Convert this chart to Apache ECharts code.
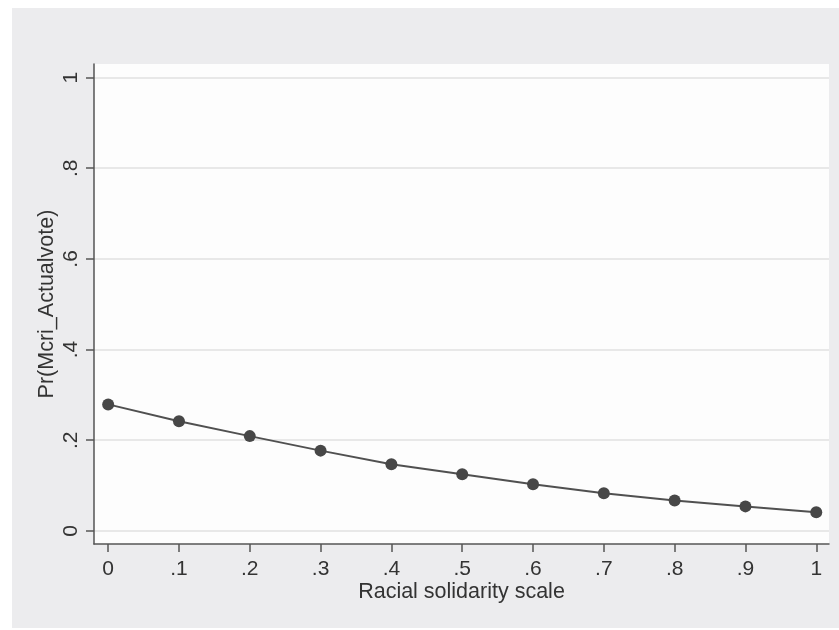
<!DOCTYPE html>
<html>
<head>
<meta charset="utf-8">
<script src="https://cdn.jsdelivr.net/npm/echarts@6/dist/echarts.min.js"></script>
<style>
  html, body { margin: 0; padding: 0; background: #ffffff; }
  #chart { width: 839px; height: 630px; }
</style>
</head>
<body>
<div id="chart"></div>
<script>
// Racial solidarity scale vs predicted Pr(Mcri_Actualvote)
const xValues = [0, 0.1, 0.2, 0.3, 0.4, 0.5, 0.6, 0.7, 0.8, 0.9, 1];
const probValues = [0.279, 0.242, 0.209, 0.177, 0.147, 0.125, 0.103, 0.083, 0.067, 0.054, 0.041];
const xTicks = [0, 0.1, 0.2, 0.3, 0.4, 0.5, 0.6, 0.7, 0.8, 0.9, 1];
const yTicks = [0, 0.2, 0.4, 0.6, 0.8, 1];

const ink = "#333333";
const font = "'Liberation Sans', Arial, sans-serif";
// Stata-style labels: drop the leading zero
const fmt = (v) => String(Number(v.toFixed(2))).replace(/^0\./, ".");

const chart = echarts.init(document.getElementById("chart"));

chart.setOption({
  animation: false,
  backgroundColor: "#ffffff",
  graphic: [
    {
      type: "rect",
      z: -10,
      shape: { x: 12, y: 8, width: 827, height: 620 },
      style: { fill: "#ececee" },
    },
  ],
  grid: {
    left: 94,
    top: 64,
    right: 10,
    bottom: 86,
    show: true,
    backgroundColor: "#fdfdfd",
    borderWidth: 0,
  },
  xAxis: {
    type: "value",
    min: -0.02,
    max: 1.018,
    name: "Racial solidarity scale",
    nameLocation: "middle",
    nameGap: 37,
    nameMoveOverlap: false,
    nameTextStyle: { fontFamily: font, fontSize: 21.5, color: ink },
    axisLine: { show: true, onZero: false, lineStyle: { color: "#555555", width: 1.5 } },
    axisTick: {
      show: true,
      length: 8,
      customValues: xTicks,
      lineStyle: { color: "#555555", width: 1.5 },
    },
    axisLabel: {
      customValues: xTicks,
      formatter: fmt,
      margin: 15,
      fontFamily: font,
      fontSize: 21,
      color: ink,
    },
    splitLine: { show: false },
  },
  yAxis: {
    type: "value",
    min: -0.029,
    max: 1.03,
    name: "Pr(Mcri_Actualvote)",
    nameLocation: "middle",
    nameGap: 36,
    nameMoveOverlap: false,
    nameTextStyle: { fontFamily: font, fontSize: 21.5, color: ink },
    axisLine: { show: true, onZero: false, lineStyle: { color: "#555555", width: 1.5 } },
    axisTick: {
      show: true,
      length: 8,
      customValues: yTicks,
      lineStyle: { color: "#555555", width: 1.5 },
    },
    axisLabel: {
      customValues: yTicks,
      formatter: fmt,
      rotate: 90,
      margin: 12,
      fontFamily: font,
      fontSize: 21,
      color: ink,
    },
    splitLine: { show: true, lineStyle: { color: "#e8e8e8", width: 2 } },
  },
  series: [
    {
      type: "line",
      data: xValues.map((x, i) => [x, probValues[i]]),
      symbol: "circle",
      symbolSize: 12,
      itemStyle: { color: "#474747" },
      lineStyle: { color: "#505050", width: 2 },
      smooth: false,
    },
  ],
});
</script>
</body>
</html>
